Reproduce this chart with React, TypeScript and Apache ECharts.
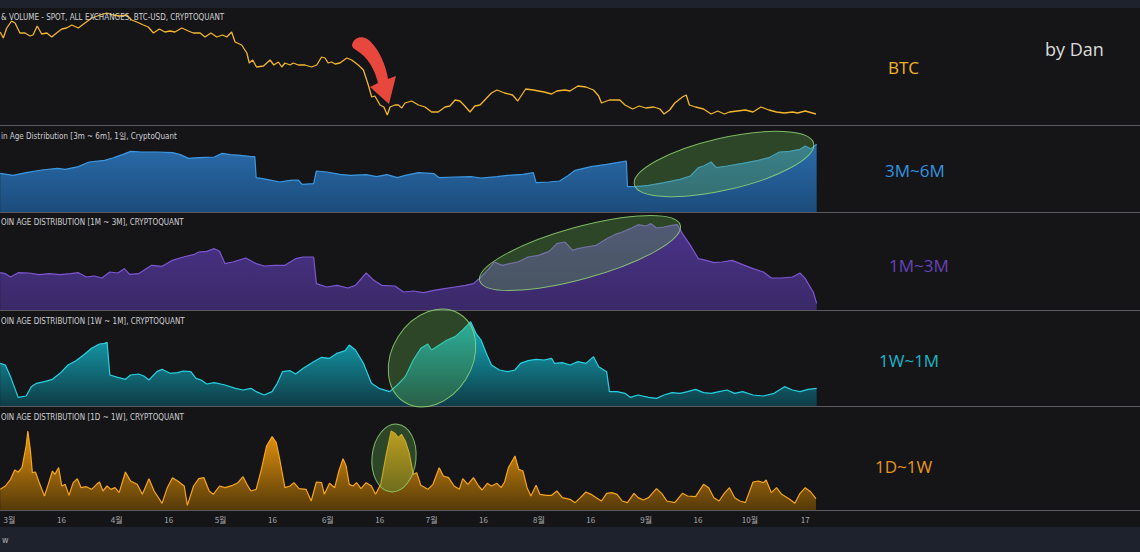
import React, { useEffect, useRef } from 'react';
import * as echarts from 'echarts';

// x axis: days counted from 1 March (day 0)
const X_MIN = -2.75;
const X_MAX = 233.4;

const tickDays = [0, 15, 31, 46, 61, 76, 92, 107, 122, 137, 153, 168, 184, 199, 214, 230];
const tickLabels = ['3월', '16', '4월', '16', '5월', '16', '6월', '16', '7월', '16', '8월', '16', '9월', '16', '10월', '17'];

// BTC price level (relative height)
const btcDays = [-2.7,-1.8,-0.8,0.6,1.6,3.0,4.5,5.9,6.8,8.0,9.3,10.8,12.2,13.6,15.1,16.5,18.0,19.9,21.8,23.8,26.2,28.1,30.0,31.9,33.9,35.3,36.8,38.7,40.1,41.6,43.3,44.9,46.4,47.8,49.8,51.7,53.1,55.1,56.5,58.2,59.9,61.6,62.8,64.2,65.2,67.1,68.6,69.3,70.3,71.4,73.4,75.3,76.4,77.7,78.7,79.6,81.1,82.0,83.5,85.4,87.3,88.8,90.2,91.2,92.1,93.1,94.1,95.5,97.5,98.9,100.8,102.3,103.7,104.7,105.6,107.1,108.2,109.2,110.0,111.4,112.4,113.4,114.3,116.2,118.2,120.1,122.0,123.9,125.9,127.3,128.8,130.2,131.6,133.1,134.5,136.0,139.3,140.9,143.1,145.4,146.9,149.2,151.4,154.5,156.7,158.2,160.5,162.0,164.3,166.6,168.8,170.3,171.1,173.4,176.4,177.9,180.1,182.0,183.9,186.2,188.0,189.2,190.8,192.3,194.5,195.6,196.5,198.3,200.6,202.8,204.7,206.6,208.1,210.4,212.7,214.9,217.2,219.5,221.7,224.0,226.3,227.8,230.0,233.1];
const btcValues = [93,87,97,104,102,92,92,89,90,99,91,92,88,92,96,97,100,97,102,107,110,112,110,109,110,105,103,100,98,92,96,93,94,93,97,94,92,92,88,92,88,90,88,93,83,80,72,62,65,58,59,65,60,63,58,62,60,62,60,60,58,60,68,67,62,63,61,62,67,65,60,55,40,28,29,20,18,10,18,20,20,17,22,24,20,18,13,13,18,19,25,24,19,13,19,20,32,35,32,30,24,36,35,33,31,34,35,34,39,38,35,29,22,25,25,20,16,19,17,18,16,11,15,22,28,30,20,18,16,11,14,11,13,14,15,13,18,15,13,12,13,12,14,11];

// Coin age distribution 3m ~ 6m
const m3m6Days = [-2.7,1.0,4.8,9.3,13.9,16.1,19.9,23.0,27.5,29.8,32.8,35.0,38.1,42.6,47.1,49.4,51.7,54.7,59.2,61.5,63.8,66.8,69.8,70.9,71.3,74.3,78.1,81.1,83.4,84.6,87.9,88.7,91.7,95.5,98.5,103.1,106.1,109.1,112.1,114.4,118.2,122.7,124.2,128.8,133.3,136.3,140.9,143.9,148.4,151.4,152.2,156.0,159.0,161.3,163.5,168.1,172.6,175.6,178.3,178.6,180.9,184.7,189.2,193.8,196.8,199.1,200.6,202.8,204.3,207.4,211.9,216.4,219.5,222.5,225.5,228.5,230.0,231.6,233.3];
const m3m6Values = [116,110,118,126,131,128,136,150,155,162,173,182,180,180,178,172,161,163,165,176,172,170,166,166,103,98,90,95,96,83,85,123,120,113,110,112,106,112,103,110,118,115,103,105,106,102,106,110,113,118,88,90,93,108,125,136,143,148,153,76,76,80,88,98,108,133,138,150,133,138,146,155,163,180,182,188,198,190,203];

// Coin age distribution 1m ~ 3m
const m1m3Days = [-2.7,-1.2,0.3,2.5,5.6,8.6,11.6,14.6,17.7,19.9,22.2,24.5,26.7,29.0,31.3,33.2,34.7,37.3,41.1,44.1,47.1,50.2,53.2,54.7,57.0,59.2,60.7,62.3,64.5,68.3,71.3,73.6,76.6,79.6,82.7,84.9,87.9,88.7,91.7,94.7,97.8,100.0,103.1,105.3,107.6,111.4,113.9,116.7,119.7,122.7,125.7,128.8,131.8,134.1,136.3,138.6,140.1,142.4,144.6,146.9,149.9,152.9,156.0,158.2,160.5,162.8,164.3,166.6,169.6,172.6,174.9,177.1,179.4,181.7,183.9,185.4,187.0,189.2,191.5,193.0,194.5,196.8,199.1,201.3,203.6,205.9,208.9,211.9,214.9,217.9,220.2,223.2,226.3,228.5,230.0,232.3,233.3];
const m1m3Values = [112,109,99,112,111,106,109,106,109,112,99,102,96,114,111,124,107,109,134,131,149,159,166,174,176,184,176,139,144,156,139,132,134,134,154,159,159,79,69,74,66,74,111,89,74,72,54,57,52,59,64,69,74,79,99,124,144,134,139,144,159,164,176,199,204,179,184,189,194,214,226,234,244,256,252,259,246,249,254,256,229,194,154,149,142,144,149,136,124,114,96,96,99,111,94,54,20];

// Coin age distribution 1w ~ 1m
const w1m1Days = [-2.7,-1.2,0.3,2.5,4.8,6.3,7.8,10.1,12.4,14.6,16.9,19.2,21.4,23.7,26.0,27.5,28.2,29.0,31.3,33.5,35.0,37.3,38.8,40.3,42.6,44.1,46.4,48.6,50.2,52.4,53.9,55.4,57.0,59.2,62.3,65.3,67.5,69.8,71.3,73.6,75.9,77.4,78.9,81.1,82.7,84.9,87.9,90.2,92.5,94.7,97.0,98.2,100.0,102.3,104.6,106.8,109.9,112.1,114.4,116.7,118.9,120.9,122.0,124.2,126.5,128.8,131.0,133.3,134.8,136.3,137.8,139.3,141.6,143.9,146.1,147.7,149.9,152.2,154.5,156.7,157.5,159.8,162.0,164.3,166.6,168.8,170.3,172.6,173.4,175.6,177.9,179.4,181.7,184.7,187.0,189.2,191.5,193.8,196.0,198.3,200.6,202.8,205.1,207.4,209.6,211.9,214.9,217.9,221.0,224.0,226.3,228.5,230.8,233.3];
const w1m1Values = [128,123,88,26,30,58,68,73,80,98,123,136,153,173,186,188,191,93,86,80,93,96,90,78,103,110,98,100,105,103,83,78,66,70,63,53,48,53,43,33,43,68,103,106,96,113,133,146,143,158,166,183,168,128,68,53,43,63,88,138,173,186,168,183,198,208,228,253,218,198,158,123,108,103,108,128,136,140,138,143,128,130,123,133,128,148,118,103,43,43,38,26,33,26,23,33,40,38,43,50,40,38,43,48,38,43,33,30,38,58,48,43,50,53];

// Coin age distribution 1d ~ 1w
const d1w1Days = [-2.7,-1.2,0.3,1.5,2.5,3.6,4.8,5.3,6.0,6.6,7.5,8.6,10.1,11.2,12.4,13.1,14.2,15.1,16.1,17.2,18.4,19.6,20.7,22.2,23.7,25.2,26.0,27.0,28.2,29.3,30.5,31.7,33.5,35.0,36.9,38.4,40.3,41.8,44.1,45.6,47.1,48.6,50.5,51.4,53.2,54.7,56.2,57.7,58.9,60.7,62.3,64.5,66.0,67.5,68.6,69.8,71.3,72.8,74.3,75.9,77.1,78.1,79.6,81.1,82.2,83.7,85.7,87.2,88.7,90.2,91.0,92.5,94.0,95.2,96.4,97.3,98.2,99.3,100.3,101.6,103.1,104.6,105.8,107.3,108.8,110.3,111.4,112.4,113.3,114.4,115.5,116.7,117.7,118.9,120.9,122.4,124.2,125.4,126.9,128.5,130.0,131.0,132.5,134.1,135.6,136.6,138.1,139.3,140.9,142.1,143.1,144.2,146.1,147.2,148.4,149.6,150.7,152.2,153.3,155.2,156.7,158.2,159.8,162.0,163.5,165.0,166.6,168.1,169.6,171.1,172.6,174.1,175.6,177.1,178.6,180.5,181.7,183.2,184.7,187.0,188.5,190.0,192.3,194.5,196.0,198.3,200.6,202.1,203.6,205.1,206.6,208.1,209.6,211.1,212.7,214.9,216.4,217.9,218.7,220.2,221.7,223.2,225.5,227.0,228.5,230.0,231.6,233.1];
const d1w1Values = [62,72,92,120,114,127,192,237,182,112,114,82,42,77,117,107,127,72,77,44,82,94,67,70,62,77,84,57,72,62,67,52,114,87,77,47,94,57,20,67,97,87,72,14,72,94,97,57,47,72,67,74,82,100,77,57,62,122,192,220,202,152,67,72,82,64,62,27,84,82,47,80,67,117,154,132,77,72,82,64,82,72,47,77,162,237,230,217,227,207,172,107,112,74,62,77,127,102,97,72,62,94,77,97,72,60,80,72,80,67,84,127,162,122,117,67,42,74,47,44,44,57,37,32,22,37,54,47,37,27,50,52,47,27,22,50,37,30,37,64,50,27,22,50,42,40,77,67,37,27,50,67,37,27,22,84,87,82,90,52,67,47,32,20,50,67,54,34];

const panelTitles = [
  '& VOLUME - SPOT, ALL EXCHANGES, BTC-USD, CRYPTOQUANT',
  'in Age Distribution [3m ~ 6m], 1일, CryptoQuant',
  'OIN AGE DISTRIBUTION [1M ~ 3M], CRYPTOQUANT',
  'OIN AGE DISTRIBUTION [1W ~ 1M], CRYPTOQUANT',
  'OIN AGE DISTRIBUTION [1D ~ 1W], CRYPTOQUANT',
];
const sideLabels = ['BTC', '3M~6M', '1M~3M', '1W~1M', '1D~1W'];

const ARROW_D = 'M352 45 C354 36 364 35 370 41 C380 51 386 66 388 79 L396 76 L389 104 L370 87 L378 83 C375 70 368 57 356 50 C353 48 352 47 352 45 Z';

const pair = (days: number[], vals: number[]) => days.map((d, i) => [d, vals[i]]);

export default function App() {
  const ref = useRef<HTMLDivElement>(null);
  useEffect(() => {
    if (!ref.current) return;
    echarts.graphic.registerShape('redArrow', echarts.graphic.extendPath(ARROW_D, {}));
    const chart = echarts.init(ref.current, null, { renderer: 'svg' });

    const grids = [
      { top: 8, height: 117 },
      { top: 126, height: 86 },
      { top: 212, height: 98 },
      { top: 310, height: 96 },
      { top: 406, height: 104 },
    ].map((g) => ({ left: 0, width: 817, ...g }));
    const yMax = [117, 258, 294, 288, 312];

    const xAxes = grids.map((_, i) => ({
      type: 'value',
      gridIndex: i,
      min: X_MIN,
      max: X_MAX,
      show: i === 4,
      splitLine: { show: false },
      axisLine: { show: i === 4, lineStyle: { color: '#5a5a5f' } },
      axisTick: {
        show: i === 4,
        customValues: tickDays,
        inside: true,
        length: 3,
        lineStyle: { color: '#5a5a5f' },
      },
      axisLabel: {
        show: i === 4,
        customValues: tickDays,
        formatter: (v: number) => {
          const k = tickDays.indexOf(Math.round(v));
          return k >= 0 ? tickLabels[k] : '';
        },
        color: '#a8a8ac',
        fontSize: 8,
        fontFamily: 'Noto Sans CJK KR, sans-serif',
        margin: 5,
        hideOverlap: false,
      },
    }));
    const yAxes = grids.map((_, i) => ({
      type: 'value',
      gridIndex: i,
      min: 0,
      max: yMax[i],
      show: false,
      splitLine: { show: false },
    }));

    const grad = (top: string, bottom: string) =>
      new echarts.graphic.LinearGradient(0, 0, 0, 1, [
        { offset: 0, color: top },
        { offset: 1, color: bottom },
      ]);

    const series: any[] = [
      {
        name: 'BTC', type: 'line', xAxisIndex: 0, yAxisIndex: 0,
        data: pair(btcDays, btcValues), showSymbol: false,
        lineStyle: { color: '#f2b52c', width: 1.3 },
      },
      {
        name: '3M~6M', type: 'line', xAxisIndex: 1, yAxisIndex: 1,
        data: pair(m3m6Days, m3m6Values), showSymbol: false,
        lineStyle: { color: '#3b98e4', width: 1.2 },
        areaStyle: { color: grad('#2a6cab', '#1c4c7c'), opacity: 1 },
      },
      {
        name: '1M~3M', type: 'line', xAxisIndex: 2, yAxisIndex: 2,
        data: pair(m1m3Days, m1m3Values), showSymbol: false,
        lineStyle: { color: '#7e56d2', width: 1.2 },
        areaStyle: { color: grad('#4b338a', '#3a2968'), opacity: 1 },
      },
      {
        name: '1W~1M', type: 'line', xAxisIndex: 3, yAxisIndex: 3,
        data: pair(w1m1Days, w1m1Values), showSymbol: false,
        lineStyle: { color: '#26d2e2', width: 1.2 },
        areaStyle: { color: grad('#16b0c2', '#0e3c46'), opacity: 1 },
      },
      {
        name: '1D~1W', type: 'line', xAxisIndex: 4, yAxisIndex: 4,
        data: pair(d1w1Days, d1w1Values), showSymbol: false,
        lineStyle: { color: '#f7a51e', width: 1.2 },
        areaStyle: { color: grad('#e8950f', '#553a08'), opacity: 1 },
      },
    ];

    const sepY = [125.5, 212.5, 310.5, 406.5, 510.5];
    const titleY = [17, 136, 222, 321, 417];
    const sideStyle = [
      { x: 888, y: 67, color: '#f2b42a' },
      { x: 885, y: 170, color: '#3394e0' },
      { x: 889, y: 265, color: '#6643b8' },
      { x: 879, y: 360, color: '#1bb4c9' },
      { x: 875, y: 466, color: '#e8951c' },
    ];

    const ellipseStyle = {
      fill: 'rgba(95,175,70,0.32)',
      stroke: 'rgba(150,220,120,0.8)',
      lineWidth: 1,
    };

    const graphic: any[] = [
      { type: 'rect', shape: { x: 0, y: 0, width: 1140, height: 8 }, style: { fill: '#1e222d' }, z: 10 },
      { type: 'rect', shape: { x: 0, y: 527, width: 1140, height: 25 }, style: { fill: '#1e222d' }, z: 10 },
      { type: 'text', x: 2, y: 540, style: { text: 'w', fill: '#b0b0b0', fontSize: 8, fontFamily: 'DejaVu Sans', verticalAlign: 'middle' }, z: 11 },
      ...sepY.map((y) => ({
        type: 'line', shape: { x1: 0, y1: y, x2: 1140, y2: y },
        style: { stroke: '#5a5a5f', lineWidth: 1 }, z: 10,
      })),
      ...panelTitles.map((t, i) => ({
        type: 'text', x: 1, y: titleY[i],
        style: {
          text: t, fill: '#cfcfd2', fontSize: 8,
          fontFamily: 'Liberation Sans Narrow, DejaVu Sans Condensed, Noto Sans CJK KR, sans-serif',
          verticalAlign: 'middle', align: 'left',
        }, z: 12,
      })),
      ...sideLabels.map((t, i) => ({
        type: 'text', x: sideStyle[i].x, y: sideStyle[i].y,
        style: {
          text: t, fill: sideStyle[i].color, fontSize: 17,
          fontFamily: 'Open Sans, sans-serif', verticalAlign: 'middle', align: 'left',
        }, z: 12,
      })),
      {
        type: 'text', x: 1045, y: 49,
        style: { text: 'by Dan', fill: '#dcdcdc', fontSize: 18, fontFamily: 'Open Sans, sans-serif', verticalAlign: 'middle', align: 'left' },
        z: 12,
      },
      { type: 'ellipse', x: 724, y: 164, rotation: 0.227, shape: { cx: 0, cy: 0, rx: 92, ry: 26 }, style: ellipseStyle, z: 13 },
      { type: 'ellipse', x: 580, y: 253, rotation: 0.27, shape: { cx: 0, cy: 0, rx: 104, ry: 26 }, style: ellipseStyle, z: 13 },
      { type: 'ellipse', x: 432, y: 358, rotation: 1.01, shape: { cx: 0, cy: 0, rx: 52, ry: 40 }, style: ellipseStyle, z: 13 },
      { type: 'ellipse', x: 394, y: 458, rotation: -0.1, shape: { cx: 0, cy: 0, rx: 22, ry: 34 }, style: ellipseStyle, z: 13 },
      { type: 'redArrow', x: 0, y: 0, scaleX: 1, scaleY: 1, style: { fill: '#e8473d' }, z: 14 },
    ];

    chart.setOption({
      animation: false,
      backgroundColor: '#151518',
      grid: grids,
      xAxis: xAxes,
      yAxis: yAxes,
      series,
      graphic,
    });
    return () => chart.dispose();
  }, []);
  return <div ref={ref} style={{ position: 'fixed', left: 0, top: 0, width: 1140, height: 552 }} />;
}
